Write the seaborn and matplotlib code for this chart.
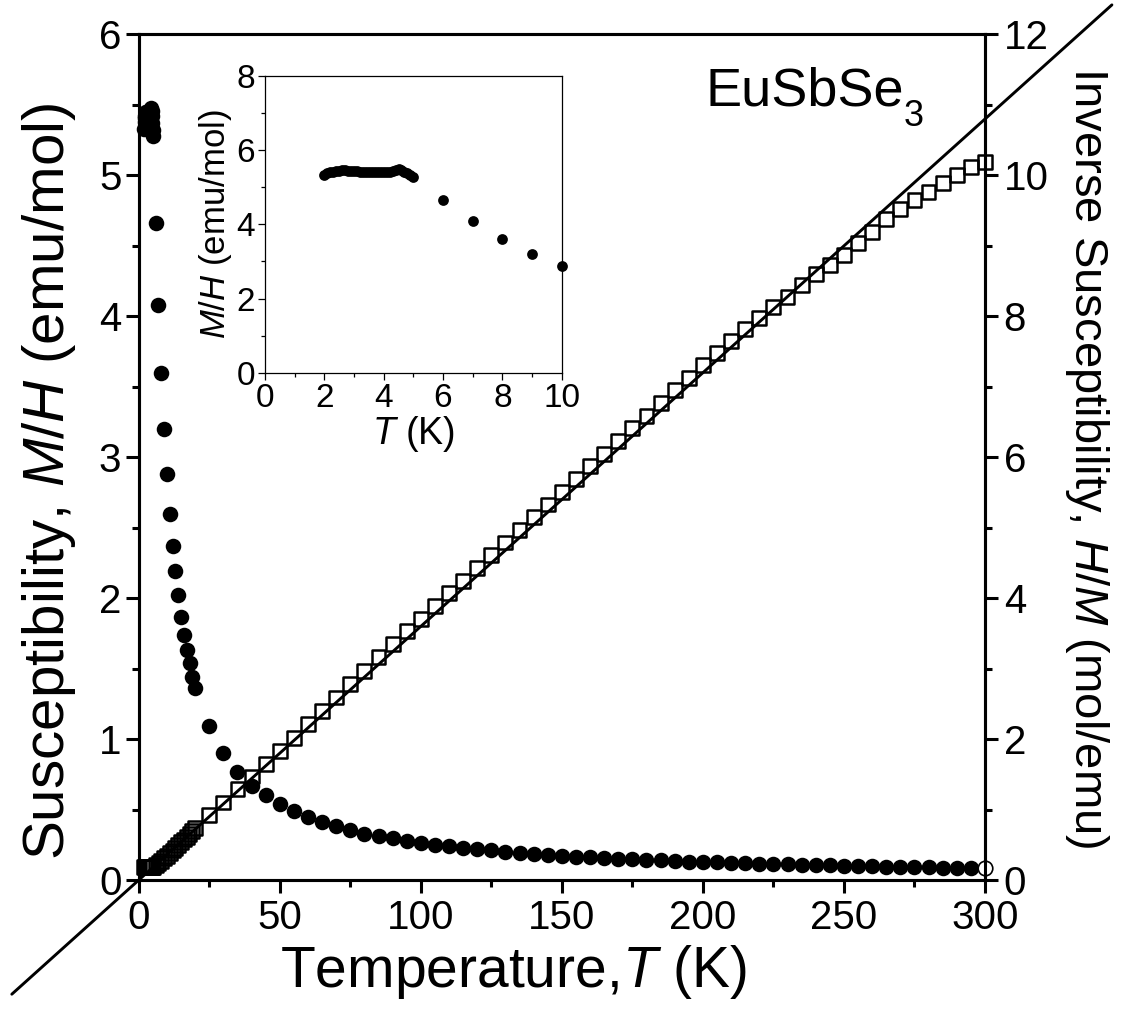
import numpy as np
import pandas as pd
import matplotlib
matplotlib.use("Agg")
import matplotlib.pyplot as plt
import seaborn as sns
from matplotlib.ticker import MultipleLocator

# ---------------- data ----------------
# susceptibility M/H (emu/mol), filled circles
chi_T_low = [2.0, 2.1, 2.2, 2.3, 2.4, 2.5, 2.6, 2.7, 2.8, 2.9, 3.0, 3.1, 3.2, 3.3,
             3.4, 3.5, 3.6, 3.7, 3.8, 3.9, 4.0, 4.1, 4.2, 4.3, 4.4, 4.5, 4.6, 4.7,
             4.8, 4.9, 5.0, 6, 7, 8, 9, 10]
chi_low = [5.33, 5.38, 5.41, 5.42, 5.43, 5.44, 5.45, 5.45, 5.44, 5.44, 5.43, 5.43,
           5.42, 5.42, 5.41, 5.41, 5.40, 5.40, 5.40, 5.40, 5.41, 5.41, 5.42, 5.44,
           5.46, 5.48, 5.46, 5.42, 5.37, 5.32, 5.28, 4.66, 4.08, 3.60, 3.20, 2.88]
chi_T_mid = [11, 12, 13, 14, 15, 16, 17, 18, 19, 20]
chi_mid = [2.60, 2.37, 2.19, 2.02, 1.87, 1.74, 1.63, 1.54, 1.44, 1.36]
chi_T_high = list(range(25, 305, 5))
chi_high = [1.09, 0.90, 0.77, 0.67, 0.60, 0.54, 0.49, 0.45, 0.41, 0.38, 0.355, 0.33,
            0.31, 0.295, 0.28, 0.265, 0.25, 0.24, 0.23, 0.22, 0.21, 0.20, 0.195,
            0.187, 0.18, 0.173, 0.167, 0.162, 0.157, 0.152, 0.147, 0.143, 0.139,
            0.135, 0.131, 0.128, 0.125, 0.122, 0.119, 0.116, 0.113, 0.111, 0.108,
            0.106, 0.104, 0.102, 0.100, 0.098, 0.096, 0.094, 0.093, 0.091, 0.089,
            0.088, 0.086, 0.085]

# inverse susceptibility H/M (mol/emu), open squares
inv_T_low = [2.0, 2.2, 2.4, 2.6, 2.8, 3.0, 3.2, 3.4, 3.6, 3.8, 4.0, 4.2, 4.4, 4.6,
             4.8, 5.0, 6, 7, 8, 9, 10, 11, 12, 13, 14, 15, 16, 17, 18, 19, 20]
inv_low = [0.187, 0.185, 0.184, 0.183, 0.184, 0.184, 0.185, 0.185, 0.185, 0.185,
           0.185, 0.185, 0.183, 0.183, 0.186, 0.19, 0.215, 0.243, 0.276, 0.31,
           0.345, 0.385, 0.42, 0.455, 0.495, 0.535, 0.575, 0.613, 0.65, 0.694, 0.735]
inv_T_high = list(range(25, 305, 5))
inv_high = [0.92, 1.10, 1.29, 1.47, 1.65, 1.83, 2.02, 2.21, 2.40, 2.59, 2.78, 2.97,
            3.16, 3.35, 3.53, 3.71, 3.89, 4.07, 4.25, 4.43, 4.61, 4.79, 4.97, 5.15,
            5.33, 5.51, 5.69, 5.87, 6.05, 6.23, 6.41, 6.59, 6.77, 6.95, 7.13, 7.31,
            7.48, 7.65, 7.82, 7.98, 8.13, 8.28, 8.44, 8.60, 8.73, 8.87, 9.04, 9.20,
            9.38, 9.52, 9.65, 9.77, 9.89, 10.00, 10.12, 10.19]

# Curie-Weiss fit line
fit_slope = 0.0360
fit_T = [-45, 345]

compound = "EuSbSe"
compound_sub = "3"

# ---------------- tables ----------------
chi_df = pd.DataFrame({"T": chi_T_low + chi_T_mid + chi_T_high,
                       "chi": chi_low + chi_mid + chi_high})
inv_df = pd.DataFrame({"T": inv_T_low + inv_T_high, "inv": inv_low + inv_high})
fit_df = pd.DataFrame({"T": fit_T, "inv": [fit_slope * t for t in fit_T]})
inset_df = pd.DataFrame({"T": chi_T_low, "chi": chi_low})

# ---------------- style ----------------
sns.set_style("ticks")
plt.rcParams["font.family"] = ["Liberation Sans", "DejaVu Sans"]
plt.rcParams["mathtext.fontset"] = "custom"
plt.rcParams["mathtext.rm"] = "Liberation Sans"
plt.rcParams["mathtext.it"] = "Liberation Sans:italic"
plt.rcParams["mathtext.default"] = "regular"
for k in ["text.color", "axes.labelcolor", "xtick.color", "ytick.color",
          "axes.edgecolor"]:
    plt.rcParams[k] = "black"

fig = plt.figure(figsize=(11.28, 10.14), dpi=100)
ax = fig.add_axes([0.123, 0.1321, 0.7502, 0.8339])
ax2 = ax.twinx()

# circles (main)
main_chi = chi_df.iloc[:-1]
sns.scatterplot(data=main_chi, x="T", y="chi", ax=ax, marker="o", s=125,
                color="black", edgecolor="black", linewidth=0, legend=False,
                zorder=3, clip_on=False)
last = chi_df.iloc[-1:]
sns.scatterplot(data=last, x="T", y="chi", ax=ax, marker="o", s=110,
                color="white", edgecolor="black", linewidth=1.2, legend=False,
                zorder=3, clip_on=False)

# fit line and squares on the right axis
sns.lineplot(data=fit_df, x="T", y="inv", ax=ax2, color="black", linewidth=2.1,
             clip_on=False, zorder=2)
sns.scatterplot(data=inv_df, x="T", y="inv", ax=ax2, marker="s", s=100,
                facecolor="none", edgecolor="black", linewidth=1.8, legend=False,
                zorder=3, clip_on=False)

ax.set_xlim(0, 300)
ax.set_ylim(0, 6)
ax2.set_ylim(0, 12)
ax2.set_xlim(0, 300)

lw = 2.2
for a in (ax, ax2):
    for s in a.spines.values():
        s.set_linewidth(lw)
        s.set_color("black")
        s.set_visible(True)

ax.xaxis.set_major_locator(MultipleLocator(50))
ax.xaxis.set_minor_locator(MultipleLocator(25))
ax.yaxis.set_major_locator(MultipleLocator(1))
ax.yaxis.set_minor_locator(MultipleLocator(0.5))
ax2.yaxis.set_major_locator(MultipleLocator(2))
ax2.yaxis.set_minor_locator(MultipleLocator(1))

ax.tick_params(axis="both", which="major", direction="out", length=9.5, width=lw,
               labelsize=29, top=False, right=False)
ax.tick_params(axis="x", which="major", pad=4)
ax.tick_params(axis="y", which="major", pad=3)
ax.tick_params(axis="both", which="minor", direction="out", length=5, width=lw,
               top=False, right=False)
ax2.tick_params(axis="y", which="major", direction="out", length=9.5, width=lw,
                labelsize=29, pad=4)
ax2.tick_params(axis="y", which="minor", direction="out", length=5, width=lw)

ax.set_xlabel(r"Temperature,$\mathit{T}$ (K)", fontsize=41)
ax.xaxis.set_label_coords(0.4435, -0.074)
ax.set_ylabel(r"Susceptibility, $\mathit{M/H}$ (emu/mol)", fontsize=42)
ax.yaxis.set_label_coords(-0.072, 0.472)
ax2.set_ylabel(r"Inverse Susceptibility, $\mathit{H/M}$ (mol/emu)", fontsize=34,
               rotation=270, va="bottom", labelpad=10)

fig.text(0.625, 0.8964, compound, fontsize=39, va="baseline", ha="left")
fig.text(0.801, 0.876, compound_sub, fontsize=26, va="baseline", ha="left")

# ---------------- inset ----------------
axi = fig.add_axes([0.2349, 0.6322, 0.2631, 0.2931])
axi.set_zorder(5)
axi.set_facecolor("white")
sns.scatterplot(data=inset_df, x="T", y="chi", ax=axi, marker="o", s=60,
                color="black", edgecolor="black", linewidth=0, legend=False,
                clip_on=False)
axi.set_xlim(0, 10)
axi.set_ylim(0, 8)
for s in axi.spines.values():
    s.set_linewidth(0.9)
    s.set_color("black")
axi.xaxis.set_major_locator(MultipleLocator(2))
axi.xaxis.set_minor_locator(MultipleLocator(1))
axi.yaxis.set_major_locator(MultipleLocator(2))
axi.yaxis.set_minor_locator(MultipleLocator(1))
axi.tick_params(which="major", direction="out", length=5, width=0.9, labelsize=24, pad=2)
axi.tick_params(which="minor", direction="out", length=3, width=0.9)
axi.set_xlabel(r"$\mathit{T}$ (K)", fontsize=27, labelpad=0)
axi.set_ylabel(r"$\mathit{M/H}$ (emu/mol)", fontsize=25, labelpad=2)

fig.savefig("out.png", dpi=100, facecolor="white")
